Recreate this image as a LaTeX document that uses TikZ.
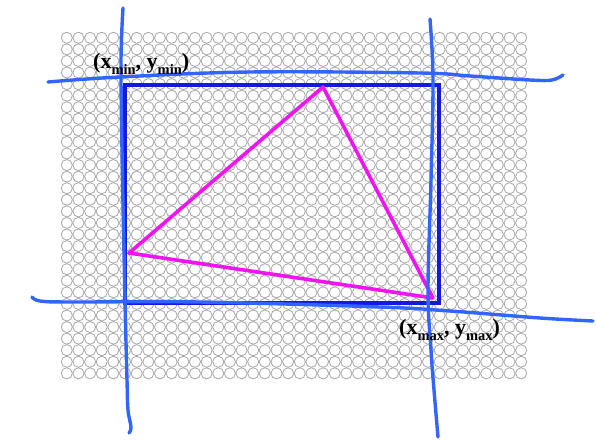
\documentclass[tikz,border=0pt]{standalone}
\usepackage{fontspec}
\setmainfont{Liberation Serif}
\definecolor{gridgray}{RGB}{170,170,170}
\definecolor{rectblue}{RGB}{20,25,225}
\definecolor{handblue}{RGB}{50,100,255}
\definecolor{trimag}{RGB}{240,20,240}
\tikzset{
  gridcirc/.style={draw=gridgray,line width=0.85pt},
  rectline/.style={draw=rectblue,line width=4.5pt},
  handline/.style={draw=handblue,line width=3.4pt,line cap=round,line join=round},
  triline/.style={draw=trimag,line width=3.6pt,line join=round},
  coordlabel/.style={font=\fontsize{22}{22}\selectfont\bfseries,inner sep=0pt,anchor=base west},
}
\newcommand{\lowsub}[1]{\raisebox{-6.5pt}{\fontsize{14.5}{14.5}\selectfont\bfseries #1}}
\begin{document}
\begin{tikzpicture}[x=1pt,y=-1pt]
\useasboundingbox (0,0) rectangle (596,439);
% grid of circles
\foreach \i in {0,...,39}{
  \foreach \j in {0,...,29}{
    \draw[gridcirc] ({66.8+11.65*\i},{37.8+11.57*\j}) circle[radius=5.55];
  }
}
% bounding rectangle
\coordinate (rtl) at (125,85);
\coordinate (rbr) at (439,303);
\draw[rectline] (rtl) rectangle (rbr);
% triangle
\coordinate (ta) at (323,87);
\coordinate (tb) at (129,253);
\coordinate (tc) at (433,298);
\draw[triline] (ta) -- (tb) -- (tc) -- cycle;
% hand-drawn lines
\draw[handline] plot[smooth,tension=0.6] coordinates {(48,82) (120,77) (250,72) (420,73) (470,76) (530,80) (552,80) (563,75)};
\draw[handline] plot[smooth,tension=0.6] coordinates {(32,297) (40,301) (70,302) (200,302) (380,307) (450,311) (540,318) (593,321)};
\draw[handline] plot[smooth,tension=0.6] coordinates {(123,8) (121,60) (122,150) (125,300) (127,380) (128,410) (131,427) (129,433)};
\draw[handline] plot[smooth,tension=0.6] coordinates {(430,19) (433,80) (431,180) (428,290) (431,350) (434,390) (438,437)};
% labels
\node[coordlabel] (lmin) at (93,68) {(x\lowsub{min}, y\lowsub{min})};
\node[coordlabel] (lmax) at (399,334) {(x\lowsub{max}, y\lowsub{max})};
\end{tikzpicture}
\end{document}
